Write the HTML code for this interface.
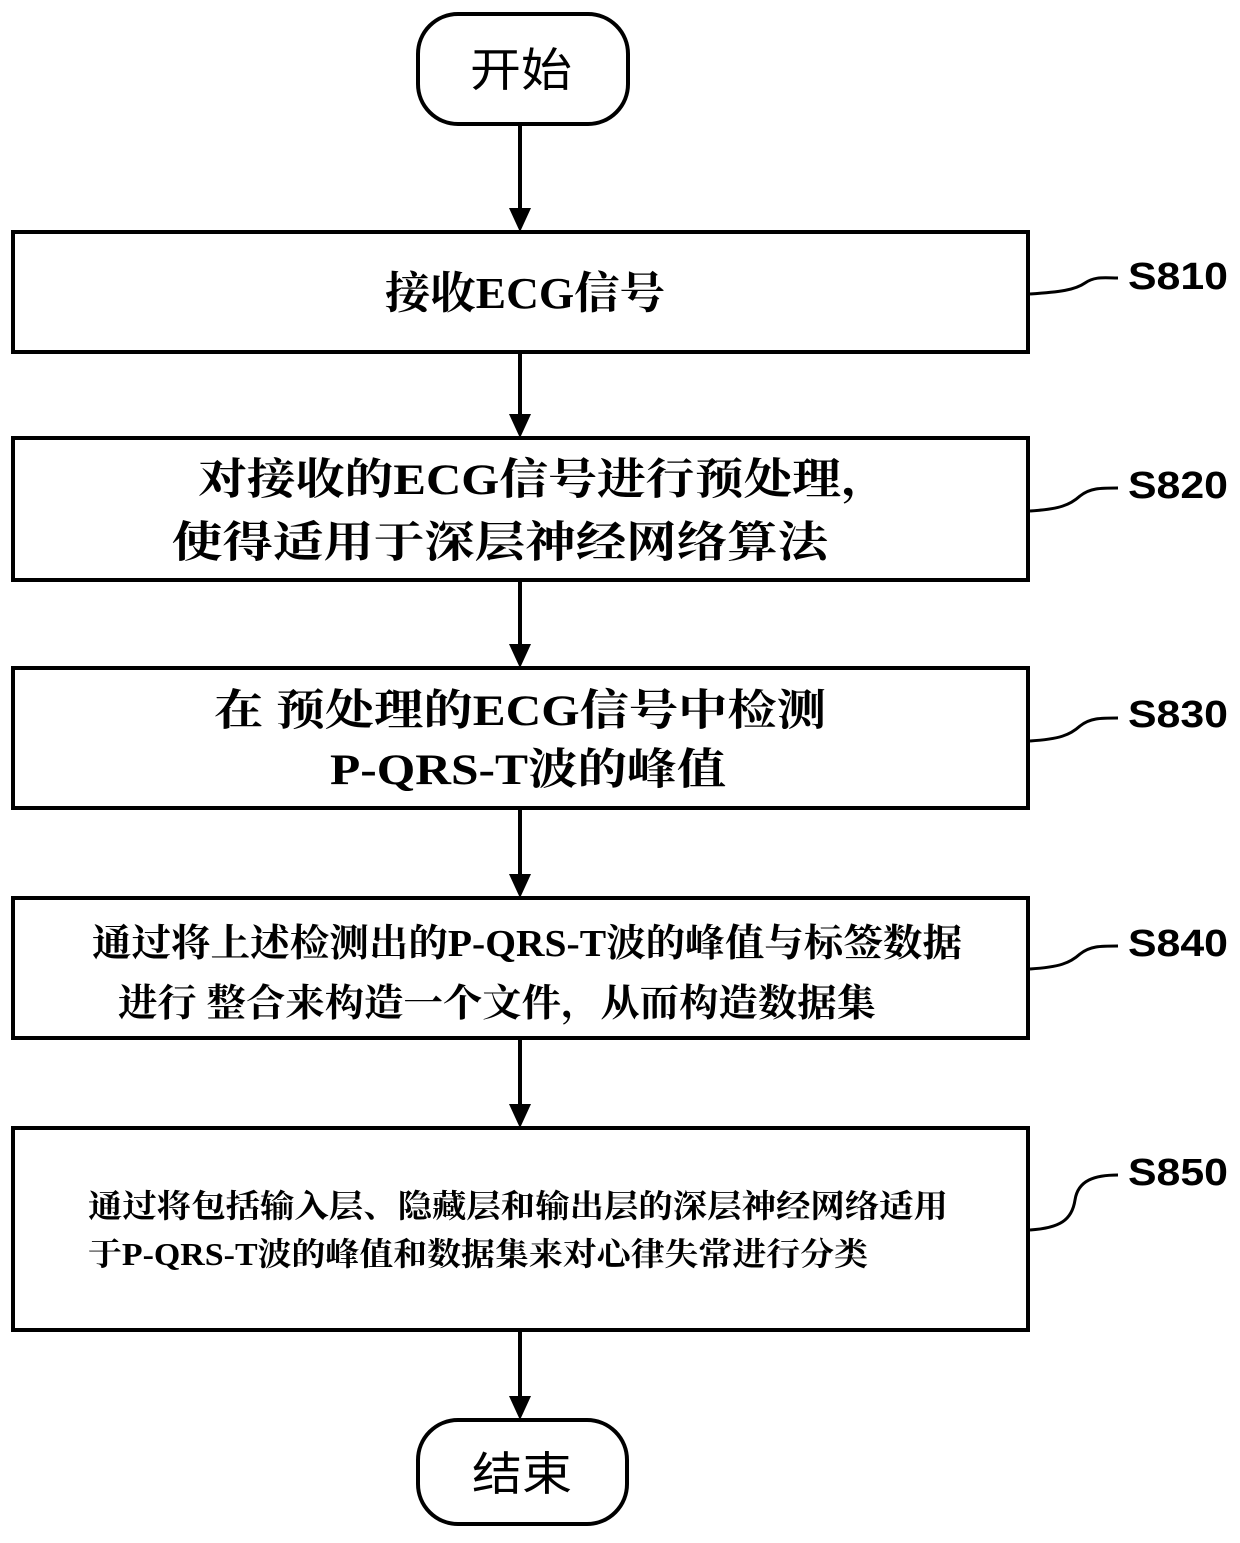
<!DOCTYPE html>
<html><head><meta charset="utf-8"><style>
html,body{margin:0;padding:0;background:#fff;}
svg{display:block}
.t{font-family:"Liberation Serif","Noto Serif CJK SC",serif;font-weight:bold;fill:#000}
.tn{font-family:"Liberation Sans","Noto Sans CJK SC",sans-serif;fill:#000}
.l{font-family:"Liberation Sans","Noto Sans CJK SC",sans-serif;font-weight:bold;font-size:38px;fill:#000}
</style></head><body>
<svg width="1240" height="1543" viewBox="0 0 1240 1543" xmlns="http://www.w3.org/2000/svg">
<g fill="none" stroke="#000" stroke-width="4">
<rect x="418" y="14" width="210" height="110" rx="40"/>
<rect x="418" y="1420" width="209" height="104" rx="40"/>
<rect x="13" y="232" width="1015" height="120"/>
<rect x="13" y="438" width="1015" height="142"/>
<rect x="13" y="668" width="1015" height="140"/>
<rect x="13" y="898" width="1015" height="140"/>
<rect x="13" y="1128" width="1015" height="202"/>
<line x1="520" y1="124" x2="520" y2="212"/>
<line x1="520" y1="352" x2="520" y2="418"/>
<line x1="520" y1="580" x2="520" y2="648"/>
<line x1="520" y1="808" x2="520" y2="878"/>
<line x1="520" y1="1038" x2="520" y2="1108"/>
<line x1="520" y1="1330" x2="520" y2="1400"/>
<path d="M1030 294 C1060 292 1075 290 1085 283 C1095 276 1105 278 1118 278" stroke-width="3"/>
<path d="M1030 511 C1060 509 1070 505 1080 496 C1090 488 1100 488 1118 488" stroke-width="3"/>
<path d="M1030 741 C1060 739 1070 735 1080 726 C1090 718 1100 718 1118 718" stroke-width="3"/>
<path d="M1030 969 C1060 967 1070 963 1080 954 C1090 946 1100 946 1118 946" stroke-width="3"/>
<path d="M1030 1230 C1060 1228 1072 1220 1075 1200 C1078 1180 1095 1175 1118 1175" stroke-width="3"/>
</g>
<g fill="#000">
<polygon points="509,208 531,208 520,232"/>
<polygon points="509,414 531,414 520,438"/>
<polygon points="509,644 531,644 520,668"/>
<polygon points="509,874 531,874 520,898"/>
<polygon points="509,1104 531,1104 520,1128"/>
<polygon points="509,1396 531,1396 520,1420"/>
</g>
<text class="tn" x="470" y="86" font-size="46" textLength="102" lengthAdjust="spacingAndGlyphs">开始</text>
<text class="tn" x="472" y="1490" font-size="46" textLength="100" lengthAdjust="spacingAndGlyphs">结束</text>
<text class="t" x="385" y="308" font-size="44" textLength="280" lengthAdjust="spacingAndGlyphs">接收ECG信号</text>
<text class="t" x="198" y="494" font-size="43" textLength="692" lengthAdjust="spacingAndGlyphs">对接收的ECG信号进行预处理，</text>
<text class="t" x="172" y="557" font-size="43" textLength="656" lengthAdjust="spacingAndGlyphs">使得适用于深层神经网络算法</text>
<text class="t" x="214" y="725" font-size="43" textLength="612" lengthAdjust="spacingAndGlyphs">在 预处理的ECG信号中检测</text>
<text class="t" x="330" y="784" font-size="43" textLength="396" lengthAdjust="spacingAndGlyphs">P-QRS-T波的峰值</text>
<text class="t" x="92" y="956" font-size="38" textLength="870" lengthAdjust="spacingAndGlyphs">通过将上述检测出的P-QRS-T波的峰值与标签数据</text>
<text class="t" x="118" y="1016" font-size="38" textLength="758" lengthAdjust="spacingAndGlyphs">进行 整合来构造一个文件，从而构造数据集</text>
<text class="t" x="88" y="1217" font-size="32" textLength="860" lengthAdjust="spacingAndGlyphs">通过将包括输入层、隐藏层和输出层的深层神经网络适用</text>
<text class="t" x="88" y="1265" font-size="32" textLength="780" lengthAdjust="spacingAndGlyphs">于P-QRS-T波的峰值和数据集来对心律失常进行分类</text>
<text class="l" x="1128" y="289" textLength="100" lengthAdjust="spacingAndGlyphs">S810</text>
<text class="l" x="1128" y="498" textLength="100" lengthAdjust="spacingAndGlyphs">S820</text>
<text class="l" x="1128" y="727" textLength="100" lengthAdjust="spacingAndGlyphs">S830</text>
<text class="l" x="1128" y="956" textLength="100" lengthAdjust="spacingAndGlyphs">S840</text>
<text class="l" x="1128" y="1185" textLength="100" lengthAdjust="spacingAndGlyphs">S850</text>
</svg>
</body></html>
